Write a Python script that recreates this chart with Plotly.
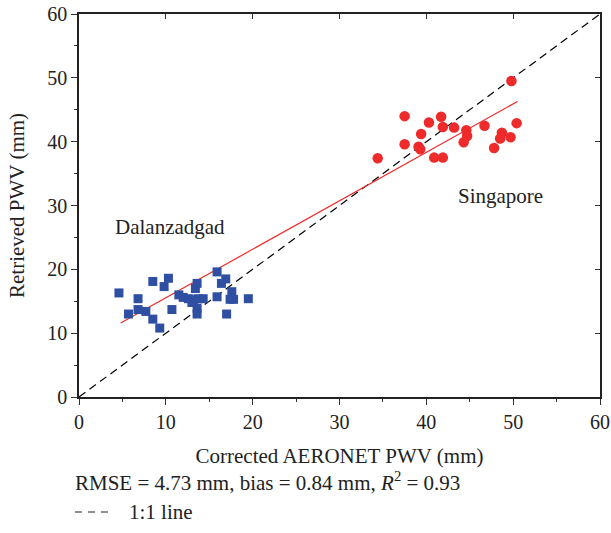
import plotly.graph_objects as go

# --- values ---
dal_x = [4.6, 5.7, 6.8, 6.8, 7.7, 8.5, 8.5, 9.3, 10.3, 9.8, 10.7,
         15.9, 16.4, 16.9, 13.6, 13.4, 11.5, 12.0, 12.6, 13.2, 13.7,
         14.3, 13.0, 13.6, 13.6, 15.9, 17.6, 17.4, 17.8, 19.5, 17.0]
dal_y = [16.3, 13.0, 15.4, 13.7, 13.4, 18.1, 12.2, 10.8, 18.6, 17.3, 13.7,
         19.6, 17.8, 18.5, 17.8, 17.0, 16.0, 15.6, 15.4, 15.2, 15.4,
         15.4, 14.8, 13.9, 13.0, 15.7, 16.5, 15.3, 15.3, 15.4, 13.0]

sin_x = [34.4, 37.5, 37.5, 40.3, 41.7, 41.9, 39.4, 39.1, 39.3, 40.9, 41.9,
         49.8, 43.2, 44.6, 44.7, 44.3, 46.7, 47.8, 48.7, 48.5, 49.7, 50.4]
sin_y = [37.4, 44.0, 39.6, 43.0, 43.9, 42.3, 41.2, 39.2, 38.8, 37.5, 37.5,
         49.5, 42.2, 41.8, 40.9, 39.9, 42.5, 39.0, 41.4, 40.5, 40.7, 42.9]

fit_x = [4.8, 50.5]
fit_y = [11.6, 46.3]
one_to_one = [0, 60]

FONT = "Liberation Serif"

fig = go.Figure()
fig.add_trace(go.Scatter(x=one_to_one, y=one_to_one, mode="lines",
                         line=dict(color="black", width=1.2, dash="8px,5px"), showlegend=False))
fig.add_trace(go.Scatter(x=fit_x, y=fit_y, mode="lines",
                         line=dict(color="#ee2a2a", width=1.2), showlegend=False))
fig.add_trace(go.Scatter(x=dal_x, y=dal_y, mode="markers",
                         marker=dict(symbol="square", size=9, color="#2f4fa3"), showlegend=False))
fig.add_trace(go.Scatter(x=sin_x, y=sin_y, mode="markers",
                         marker=dict(symbol="circle", size=10.5, color="#ee2a2a"), showlegend=False))
# invisible trace so the mirrored top/right axes get drawn
fig.add_trace(go.Scatter(x=[0], y=[0], xaxis="x2", yaxis="y2", mode="markers",
                         marker=dict(opacity=0), showlegend=False, hoverinfo="skip"))

ax = dict(range=[0, 60], dtick=10, ticks="outside", ticklen=6, tickwidth=1.2,
          tickcolor="#333", showline=True, linecolor="#222", linewidth=1.5,
          showgrid=False, zeroline=False, automargin=False, ticklabeloverflow="allow",
          tickfont=dict(family=FONT, size=20, color="#222"),
          minor=dict(ticks="outside", dtick=5, ticklen=3.5, tickwidth=1, tickcolor="#333"))
ax2 = dict(range=[0, 60], dtick=10, ticks="inside", ticklen=5, tickwidth=1,
           tickcolor="#333", showline=True, linecolor="#222", linewidth=1.5,
           showgrid=False, zeroline=False, showticklabels=False, automargin=False)

fig.update_layout(
    width=611, height=533,
    margin=dict(l=79, r=11, t=14, b=136),
    plot_bgcolor="white", paper_bgcolor="white",
    font=dict(family=FONT, size=20, color="#222"),
    xaxis=dict(ax, title=dict(text="Corrected AERONET PWV (mm)", standoff=17,
                              font=dict(family=FONT, size=21))),
    yaxis=dict(ax, title=dict(text="Retrieved PWV (mm)", standoff=17,
                              font=dict(family=FONT, size=21))),
    xaxis2=dict(ax2, overlaying="x", side="top", anchor="y2"),
    yaxis2=dict(ax2, overlaying="y", side="right", anchor="x2"),
    annotations=[
        dict(x=10.5, y=26.6, xref="x", yref="y", text="Dalanzadgad", showarrow=False,
             font=dict(family=FONT, size=21, color="#222")),
        dict(x=48.5, y=31.5, xref="x", yref="y", text="Singapore", showarrow=False,
             font=dict(family=FONT, size=21, color="#222")),
        dict(x=-0.0115, y=-0.2195, xref="paper", yref="paper", xanchor="left", yanchor="middle",
             text="RMSE = 4.73 mm, bias = 0.84 mm, <i>R</i><sup>2</sup> = 0.93", showarrow=False,
             font=dict(family=FONT, size=21, color="#222")),
        dict(x=0.092, y=-0.3003, xref="paper", yref="paper", xanchor="left", yanchor="middle",
             text="1:1 line", showarrow=False,
             font=dict(family=FONT, size=21, color="#222")),
    ],
    shapes=[dict(type="line", xref="paper", yref="paper", x0=-0.0077, x1=0.0557,
                 y0=-0.3003, y1=-0.3003,
                 line=dict(color="#222", width=1.2, dash="7px,6px"))],
)

# drop the browser's default 8px body margin so the figure fills the window
fig.write_html("out.html", config={"displayModeBar": False},
               post_script="document.body.style.margin='0';")
